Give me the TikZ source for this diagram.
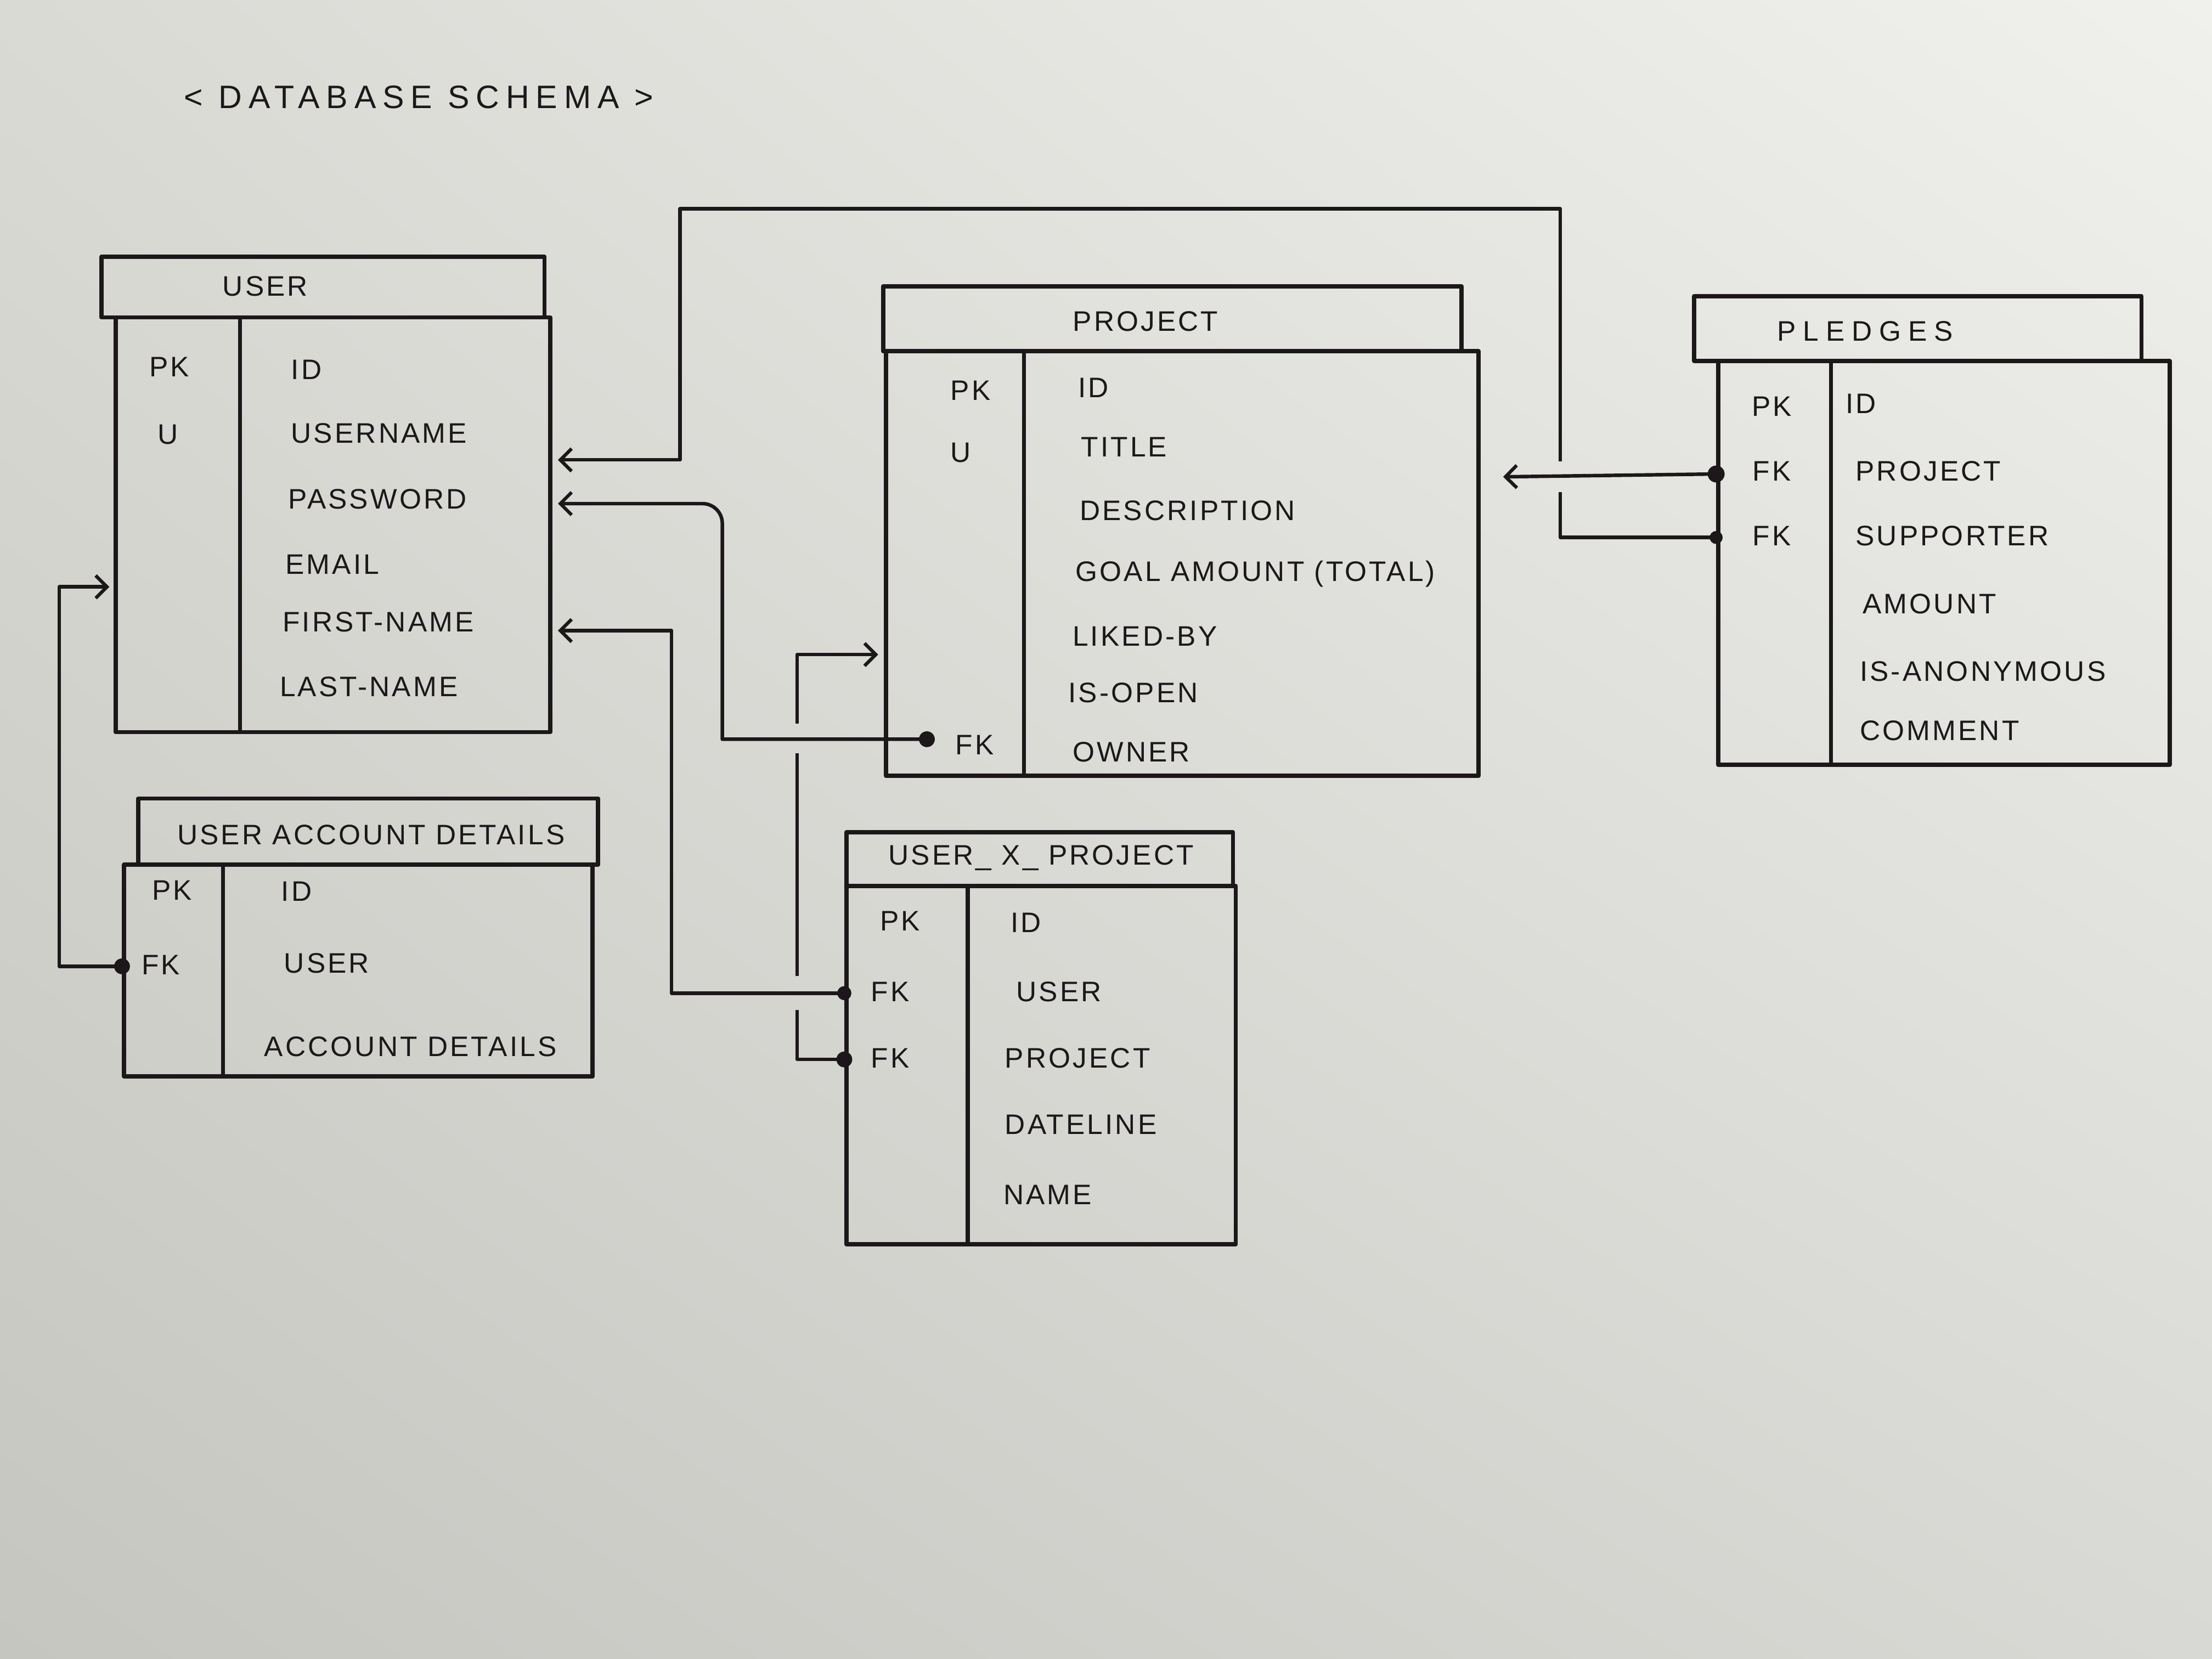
\documentclass[tikz,border=0pt]{standalone}
\usepackage{fontspec}
\setmainfont{Liberation Sans}[LetterSpace=8]
\usetikzlibrary{arrows.meta,fit,calc,shadings}
\definecolor{ink}{RGB}{28,24,26}
\definecolor{paperUL}{RGB}{218,218,213}
\definecolor{paperUR}{RGB}{240,240,237}
\definecolor{paperLL}{RGB}{198,198,193}
\definecolor{paperLR}{RGB}{216,216,212}
\begin{document}
\begin{tikzpicture}[x=0.5pt,y=-0.5pt,
  box/.style={draw=ink,line width=1.5pt,inner sep=0pt,line join=round},
  divider/.style={draw=ink,line width=1.4pt},
  conn/.style={draw=ink,line width=1.25pt,line join=round},
  arr/.style={-{Straight Barb[length=4pt,width=8pt,line width=1.2pt]}},
  txt/.style={text=ink,font=\fontsize{10}{12}\selectfont,inner sep=0pt},
  fld/.style={txt,anchor=west},
  key/.style={txt},
  ttl/.style={txt}
]
\shade[upper left=paperUL,upper right=paperUR,lower left=paperLL,lower right=paperLR] (0,0) rectangle (1568,1176);
\useasboundingbox (0,0) rectangle (1568,1176);

% title
\node[txt,font=\fontsize{11.5}{13}\selectfont\addfontfeature{LetterSpace=20}] (title) at (297,69) {< DATABASE SCHEMA >};

% ---------- USER ----------
\node[box,fit={(72,182) (386,225)}] (user-h) {};
\node[box,fit={(82,225) (390,519)}] (user-b) {};
\draw[divider] (170,225) -- (170,519);
\node[ttl] (user-t) at (188,203) {USER};
\node[key] (user-k1) at (120,260) {PK};
\node[key] (user-k2) at (119,308) {U};
\node[fld] (user-f1) at (206,262) {ID};
\node[fld] (user-f2) at (206,307) {USERNAME};
\node[fld] (user-f3) at (204,354) {PASSWORD};
\node[fld] (user-f4) at (202,400) {EMAIL};
\node[fld] (user-f5) at (200,441) {FIRST-NAME};
\node[fld] (user-f6) at (198,487) {LAST-NAME};

% ---------- PROJECT ----------
\node[box,fit={(626,203) (1036,249)}] (proj-h) {};
\node[box,fit={(628,249) (1048,550)}] (proj-b) {};
\draw[divider] (726,249) -- (726,550);
\node[ttl] (proj-t) at (812,228) {PROJECT};
\node[key] (proj-k1) at (688,277) {PK};
\node[key] (proj-k2) at (681,321) {U};
\node[key] (proj-k3) at (691,528) {FK};
\node[fld] (proj-f1) at (764,275) {ID};
\node[fld] (proj-f2) at (766,317) {TITLE};
\node[fld] (proj-f3) at (765,362) {DESCRIPTION};
\node[fld] (proj-f4) at (762,407) {GOAL AMOUNT (TOTAL)};
\node[fld] (proj-f5) at (760,451) {LIKED-BY};
\node[fld] (proj-f6) at (757,491) {IS-OPEN};
\node[fld] (proj-f7) at (760,533) {OWNER};

% ---------- PLEDGES ----------
\node[box,fit={(1201,210) (1518,256)}] (pl-h) {};
\node[box,fit={(1218,256) (1538,542)}] (pl-b) {};
\draw[divider] (1298,256) -- (1298,542);
\node[ttl,font=\fontsize{10}{12}\selectfont\addfontfeature{LetterSpace=25}] (pl-t) at (1322,235) {PLEDGES};
\node[key] (pl-k1) at (1256,288) {PK};
\node[key] (pl-k2) at (1256,334) {FK};
\node[key] (pl-k3) at (1256,380) {FK};
\node[fld] (pl-f1) at (1308,286) {ID};
\node[fld] (pl-f2) at (1315,334) {PROJECT};
\node[fld] (pl-f3) at (1315,380) {SUPPORTER};
\node[fld] (pl-f4) at (1320,428) {AMOUNT};
\node[fld] (pl-f5) at (1318,476) {IS-ANONYMOUS};
\node[fld] (pl-f6) at (1318,518) {COMMENT};

% ---------- USER ACCOUNT DETAILS ----------
\node[box,fit={(98,566) (424,613)}] (uad-h) {};
\node[box,fit={(88,613) (420,763)}] (uad-b) {};
\draw[divider] (158,613) -- (158,763);
\node[ttl] (uad-t) at (263,592) {USER ACCOUNT DETAILS};
\node[key] (uad-k1) at (122,631) {PK};
\node[key] (uad-k2) at (114,684) {FK};
\node[fld] (uad-f1) at (199,632) {ID};
\node[fld] (uad-f2) at (201,683) {USER};
\node[fld] (uad-f3) at (187,742) {ACCOUNT DETAILS};

% ---------- USER_X_PROJECT ----------
\node[box,fit={(600,590) (874,628)}] (uxp-h) {};
\node[box,fit={(600,628) (876,882)}] (uxp-b) {};
\draw[divider] (686,628) -- (686,882);
\node[ttl] (uxp-t) at (738,608) {USER\_ X\_ PROJECT};
\node[key] (uxp-k1) at (638,653) {PK};
\node[key] (uxp-k2) at (631,703) {FK};
\node[key] (uxp-k3) at (631,750) {FK};
\node[fld] (uxp-f1) at (716,654) {ID};
\node[fld] (uxp-f2) at (720,703) {USER};
\node[fld] (uxp-f3) at (712,750) {PROJECT};
\node[fld] (uxp-f4) at (712,797) {DATELINE};
\node[fld] (uxp-f5) at (711,847) {NAME};

% ---------- connector end points ----------
\coordinate (sup-dot) at (pl-b.west |- 0,381);
\coordinate (pjfk-dot) at (pl-b.west |- 0,336);
\coordinate (own-dot) at ($(proj-k3.west)+(-20,-4)$);
\coordinate (uxu-dot) at (uxp-b.west |- 0,704);
\coordinate (uxp-dot) at (uxp-b.west |- 0,751);
\coordinate (uad-dot) at (uad-b.west |- 0,685);
\coordinate (user-in1) at ($(user-b.east |- 0,326)+(4,0)$);
\coordinate (user-in2) at ($(user-b.east |- 0,357)+(4,0)$);
\coordinate (user-in3) at ($(user-b.east |- 0,447)+(4,0)$);
\coordinate (user-in4) at ($(user-b.west |- 0,416)+(-3,0)$);
\coordinate (proj-in1) at ($(proj-b.east |- 0,338)+(16,0)$);
\coordinate (proj-in2) at ($(proj-b.west |- 0,464)+(-4,0)$);

% ---------- connectors ----------
% PLEDGES.supporter -> USER
\draw[conn] (sup-dot) -- (1106,381) -- (1106,349);
\draw[conn,arr] (1106,327) -- (1106,148) -- (482,148) -- (482,326) -- (user-in1);
% PLEDGES.project -> PROJECT
\draw[conn,arr] (pjfk-dot) -- (proj-in1);
% PROJECT.owner -> USER
\draw[conn,arr] (own-dot) -- (512,524) [rounded corners=7pt] -- (512,357) -- (user-in2);
% USER_X_PROJECT.user -> USER
\draw[conn,arr] (uxu-dot) -- (476,704) -- (476,447) -- (user-in3);
% USER_X_PROJECT.project -> PROJECT
\draw[conn] (uxp-dot) -- (565,751) -- (565,716);
\draw[conn] (565,692) -- (565,534);
\draw[conn,arr] (565,513) -- (565,464) -- (proj-in2);
% USER ACCOUNT DETAILS.user -> USER
\draw[conn,arr] (uad-dot) -- (42,685) -- (42,416) -- (user-in4);

% dots
\fill[ink] (sup-dot) circle (2.3pt);
\fill[ink] (pjfk-dot) circle (3pt);
\fill[ink] (own-dot) circle (2.8pt);
\fill[ink] (uxu-dot) circle (2.5pt);
\fill[ink] (uxp-dot) circle (2.8pt);
\fill[ink] (uad-dot) circle (2.8pt);
\end{tikzpicture}
\end{document}
